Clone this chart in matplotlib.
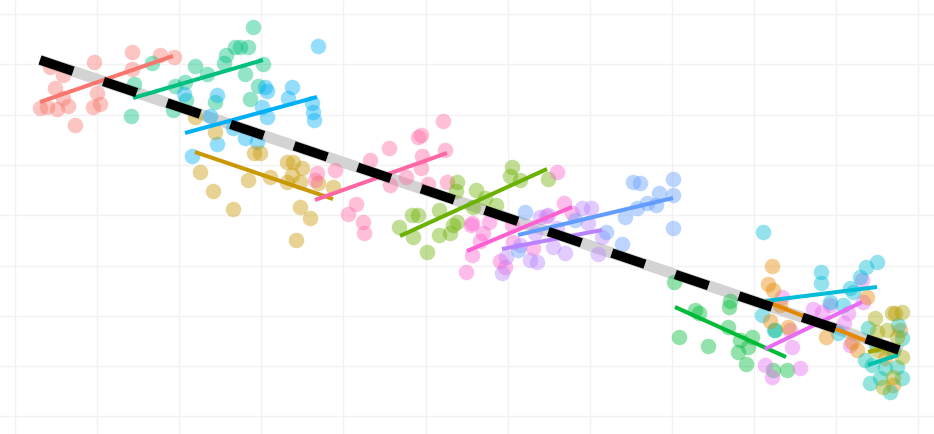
import matplotlib
matplotlib.use("Agg")
import matplotlib.pyplot as plt
import numpy as np

# point positions (x right, y down)
red_x = [40, 47, 57, 68, 55, 63, 75, 93, 100, 97, 94, 132, 132, 160, 174, 50, 63]
red_y = [108, 107, 109, 106, 88, 98, 125, 107, 104, 93, 62, 52, 69, 55, 57, 67, 75]
sea_x = [253, 235, 240, 248, 226, 224, 195, 207, 245, 263, 152, 134, 131, 175, 185, 186, 173, 215, 250, 258]
sea_y = [27, 47, 47, 47, 55, 63, 66, 74, 74, 64, 63, 84, 116, 86, 82, 100, 110, 102, 99, 86]
sky_x = [318, 292, 288, 217, 184, 265, 267, 312, 313, 314, 262, 267, 210, 233, 245, 257, 217, 192]
sky_y = [46, 87, 98, 95, 94, 87, 91, 103, 112, 120, 107, 117, 116, 128, 138, 142, 144, 156]
gold_x = [195, 215, 254, 260, 287, 293, 302, 292, 287, 300, 270, 248, 200, 213, 233, 300, 310, 296, 318, 333]
gold_y = [117, 132, 153, 153, 162, 162, 168, 175, 182, 182, 177, 180, 172, 191, 209, 207, 218, 240, 183, 187]
rose_x = [443, 418, 421, 389, 370, 445, 422, 421, 406, 428, 447, 390, 335, 317, 315, 356, 348, 363, 364]
rose_y = [121, 137, 135, 148, 160, 150, 156, 168, 177, 184, 182, 185, 170, 173, 180, 204, 214, 222, 233]
lime_x = [512, 510, 520, 548, 457, 456, 476, 485, 496, 473, 439, 412, 418, 399, 413, 457, 453, 450, 439, 427]
lime_y = [167, 176, 180, 179, 182, 191, 190, 198, 205, 207, 210, 215, 215, 227, 237, 222, 225, 233, 235, 252]
fuch_x = [557, 564, 572, 546, 489, 472, 483, 480, 512, 513, 533, 472, 500, 505, 466, 471]
fuch_y = [172, 203, 213, 216, 222, 223, 233, 241, 225, 242, 248, 255, 261, 267, 272, 225]
lilac_x = [582, 591, 540, 548, 535, 553, 565, 530, 537, 598, 588, 602, 506, 502, 557, 520]
lilac_y = [208, 208, 217, 215, 233, 247, 253, 260, 262, 254, 223, 237, 257, 273, 228, 245]
azure_x = [525, 633, 640, 673, 659, 673, 647, 656, 637, 625, 606, 622, 673, 518, 575]
azure_y = [212, 182, 183, 179, 193, 195, 203, 205, 208, 217, 232, 244, 228, 250, 220]
green_x = [674, 730, 729, 695, 699, 679, 708, 728, 740, 752, 748, 738, 746, 775, 787, 773]
green_y = [282, 301, 307, 310, 313, 337, 346, 327, 340, 337, 347, 352, 364, 330, 370, 370]
orch_x = [782, 813, 822, 830, 844, 790, 792, 765, 772, 800, 850, 862, 863, 848]
orch_y = [297, 309, 312, 305, 323, 330, 347, 365, 377, 368, 345, 280, 302, 313]
cyan_x = [763, 821, 821, 866, 877, 860, 850, 830, 843, 838, 762, 774, 853]
cyan_y = [232, 272, 283, 267, 262, 277, 288, 302, 305, 333, 315, 330, 292]
orng_x = [772, 768, 773, 770, 788, 826, 867, 857, 895, 893, 780, 852, 885, 900]
orng_y = [266, 284, 290, 321, 327, 337, 297, 350, 313, 385, 305, 342, 358, 330]
teal_x = [868, 865, 872, 870, 880, 898, 902, 897, 902, 890, 885, 876, 893]
teal_y = [328, 360, 365, 383, 378, 325, 338, 367, 378, 392, 368, 345, 350]
olive_x = [875, 902, 892, 877, 887, 897, 890, 902, 893, 883, 877]
olive_y = [318, 312, 313, 332, 330, 337, 350, 357, 377, 387, 350]

# per-group fitted line ends, same order as the groups below
fit_x0 = [40, 133, 185, 195, 315, 400, 467, 502, 518, 675, 765, 765, 765, 868, 868]
fit_y0 = [102, 98, 133, 152, 200, 236, 251, 249, 235, 307, 349, 301, 301, 365, 352]
fit_x1 = [173, 263, 317, 333, 447, 547, 572, 602, 673, 786, 862, 877, 897, 898, 900]
fit_y1 = [56, 60, 97, 199, 153, 169, 207, 230, 198, 357, 302, 287, 353, 355, 345]

# overall fit
all_x = [40, 902]
all_y = [60, 351]

groups = [(red_x, red_y, "#F8766D"), (sea_x, sea_y, "#00BF7D"), (sky_x, sky_y, "#00B0F6"),
          (gold_x, gold_y, "#C99800"), (rose_x, rose_y, "#FF67A4"), (lime_x, lime_y, "#6BB100"),
          (fuch_x, fuch_y, "#FD61D1"), (lilac_x, lilac_y, "#B983FF"), (azure_x, azure_y, "#619CFF"),
          (green_x, green_y, "#00BA38"), (orch_x, orch_y, "#E76BF3"), (cyan_x, cyan_y, "#00BCD8"),
          (orng_x, orng_y, "#E58700"), (teal_x, teal_y, "#00C0AF"), (olive_x, olive_y, "#A3A500")]

fig = plt.figure(figsize=(9.34, 4.34), dpi=100)
ax = fig.add_axes([0, 0, 1, 1])
ax.set_xlim(0, 934)
ax.set_ylim(434, 0)

ax.set_xticks(np.arange(15, 934, 82.1))
ax.set_yticks(np.arange(14, 434, 50.3))
ax.grid(True, color="#F2F2F2", linewidth=1.0)
ax.tick_params(length=0, labelbottom=False, labelleft=False)
for s in ax.spines.values():
    s.set_visible(False)
ax.set_axisbelow(True)

ax.plot(all_x, all_y, color="#D3D3D3", linewidth=8, solid_capstyle="butt", zorder=2)

for i, (gx, gy, col) in enumerate(groups):
    ax.scatter(gx, gy, s=125, color=col, alpha=0.42, linewidths=0, zorder=3)

for i, (gx, gy, col) in enumerate(groups):
    ax.plot([fit_x0[i], fit_x1[i]], [fit_y0[i], fit_y1[i]], color=col, linewidth=2.9,
            solid_capstyle="butt", zorder=4)

ax.plot(all_x, all_y, color="black", linewidth=6.8, dashes=(3.7, 3.4),
        dash_capstyle="butt", zorder=5)

fig.savefig("out.png", dpi=100)
